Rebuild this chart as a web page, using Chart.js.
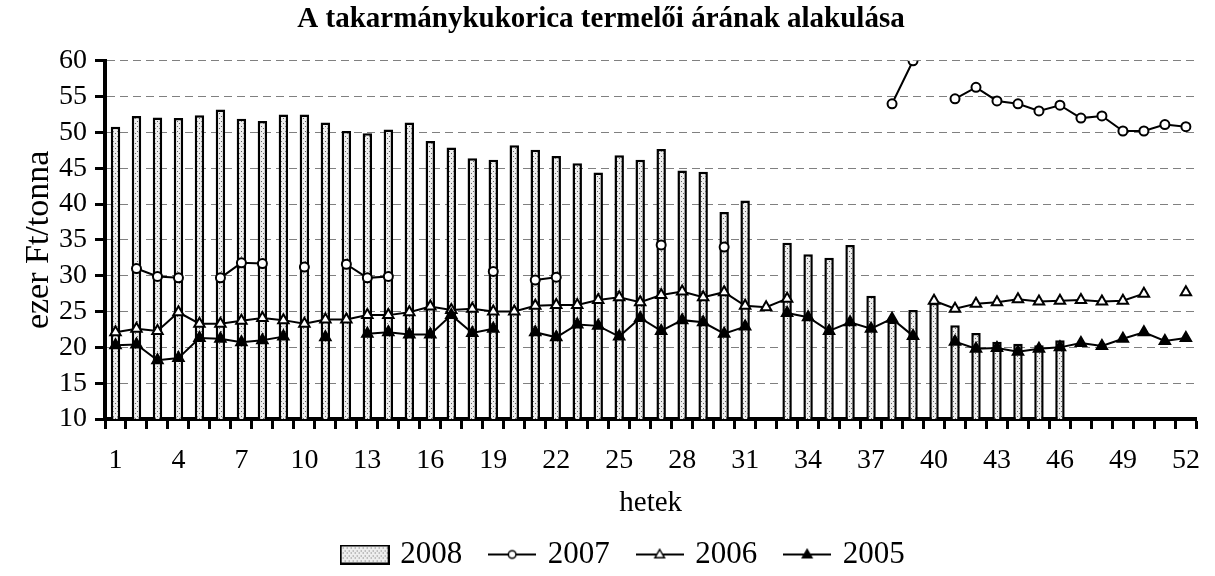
<!DOCTYPE html>
<html><head><meta charset="utf-8">
<script src="https://cdn.jsdelivr.net/npm/chart.js@4.4.0/dist/chart.umd.min.js"></script>
<style>html,body{margin:0;padding:0;background:#fff;}#wrap{width:1215px;height:576px;}</style>
</head><body><div id="wrap"><canvas id="c" width="1215" height="576"></canvas></div>
<script>
const weeks = ['1','2','3','4','5','6','7','8','9','10','11','12','13','14','15','16','17','18','19','20','21','22','23','24','25','26','27','28','29','30','31','32','33','34','35','36','37','38','39','40','41','42','43','44','45','46','47','48','49','50','51','52'];
const y2008 = [50.8,52.3,52.1,52.0,52.4,53.2,51.9,51.6,52.5,52.5,51.4,50.2,49.9,50.4,51.4,48.8,47.9,46.4,46.2,48.2,47.6,46.7,45.7,44.4,46.8,46.2,47.7,44.7,44.5,38.9,40.5,null,34.6,33.0,32.5,34.3,27.2,23.6,25.2,26.2,23.1,22.0,20.8,20.5,20.3,21.0,null,null,null,null,null,null];
const y2007 = [null,31.0,29.9,29.7,null,29.7,31.8,31.7,null,31.2,null,31.6,29.7,29.9,null,null,null,null,30.6,null,29.4,29.8,null,null,null,null,34.3,null,null,34.0,null,null,null,null,null,null,null,54.0,60.0,null,54.7,56.3,54.4,54.0,53.0,53.8,52.0,52.3,50.2,50.2,51.1,50.8];
const y2006 = [22.1,22.6,22.3,24.9,23.3,23.3,23.7,24.1,23.8,23.3,23.9,23.9,24.5,24.5,24.9,25.7,25.2,25.4,25.0,25.0,25.8,25.9,25.9,26.6,27.0,26.3,27.3,27.8,27.0,27.7,25.8,25.6,26.8,null,null,null,null,null,null,26.5,25.4,26.1,26.3,26.7,26.4,26.5,26.6,26.4,26.5,27.5,null,27.7];
const y2005 = [20.3,20.4,18.2,18.5,21.3,21.2,20.7,21.0,21.5,null,21.4,null,21.9,22.1,21.8,21.8,24.5,22.0,22.6,null,22.1,21.4,23.2,23.0,21.5,24.1,22.3,23.8,23.5,21.9,22.9,null,24.8,24.2,22.3,23.5,22.6,24.0,21.6,null,20.8,19.8,19.9,19.4,19.8,20.0,20.6,20.2,21.2,22.1,20.9,21.3];
const seriesNames = ['2008','2007','2006','2005'];
const yTicks = [10,15,20,25,30,35,40,45,50,55,60];
const titleText = 'A takarmánykukorica termelői árának alakulása';
const yTitle = 'ezer Ft/tonna';
const xTitle = 'hetek';

const FONT = 'Liberation Serif';
const canvas = document.getElementById('c');
const mainCtx = canvas.getContext('2d');

function makePattern() {
  const p = document.createElement('canvas'); p.width = 4; p.height = 5;
  const g = p.getContext('2d');
  g.fillStyle = '#eeeeee'; g.fillRect(0, 0, 4, 5);
  g.fillStyle = '#666666'; g.fillRect(1, 1, 1, 1); g.fillRect(3, 3, 1, 1);
  return mainCtx.createPattern(p, 'repeat');
}
const barPattern = makePattern();

function triPath(g, x, y, r) {
  g.beginPath();
  g.moveTo(x, y - r);
  g.lineTo(x + r * 0.866, y + r * 0.5);
  g.lineTo(x - r * 0.866, y + r * 0.5);
  g.closePath();
}
function iconBar() {
  const c = document.createElement('canvas'); c.width = 50; c.height = 20;
  const g = c.getContext('2d');
  g.fillStyle = barPattern; g.fillRect(1, 1, 48, 18);
  g.strokeStyle = '#000'; g.lineWidth = 2; g.strokeRect(1, 1, 48, 18);
  return c;
}
function iconLine(kind) {
  const c = document.createElement('canvas'); c.width = 48; c.height = 14;
  const g = c.getContext('2d');
  g.strokeStyle = '#000'; g.lineWidth = 2;
  g.beginPath(); g.moveTo(0, 7); g.lineTo(48, 7); g.stroke();
  g.lineWidth = 1.5;
  if (kind === 'circle') {
    g.beginPath(); g.arc(24, 7, 3.8, 0, Math.PI * 2); g.fillStyle = '#fff'; g.fill(); g.stroke();
  } else if (kind === 'open') {
    triPath(g, 24, 7.5, 5.5); g.fillStyle = '#fff'; g.fill(); g.stroke();
  } else {
    triPath(g, 24, 7.5, 5.5); g.fillStyle = '#000'; g.fill(); g.stroke();
  }
  return c;
}
const icons = [iconBar(), iconLine('circle'), iconLine('open'), iconLine('filled')];

const legendShift = {
  id: 'legendShift',
  afterLayout(chart) {
    const l = chart.legend;
    const ca = chart.chartArea;
    const dx = (ca.left + ca.right) / 2 - (l.left + l.right) / 2 - 26;
    l.left += dx; l.right += dx;
    l.top -= 5; l.bottom -= 5;
  }
};

new Chart(canvas, {
  data: {
    labels: weeks,
    datasets: [
      { type: 'bar', label: seriesNames[0], data: y2008, backgroundColor: barPattern, borderColor: '#000', borderWidth: 2.5, barPercentage: 0.45, categoryPercentage: 1, order: 4 },
      { type: 'line', label: seriesNames[1], data: y2007, borderColor: '#000', borderWidth: 2, pointStyle: 'circle', pointRadius: 4.5, pointBackgroundColor: '#fff', pointBorderColor: '#000', pointBorderWidth: 2, spanGaps: false, tension: 0, order: 3 },
      { type: 'line', label: seriesNames[2], data: y2006, borderColor: '#000', borderWidth: 2, pointStyle: 'triangle', pointRadius: 6, pointBackgroundColor: '#fff', pointBorderColor: '#000', pointBorderWidth: 2, spanGaps: false, tension: 0, order: 2 },
      { type: 'line', label: seriesNames[3], data: y2005, borderColor: '#000', borderWidth: 2, pointStyle: 'triangle', pointRadius: 6, pointBackgroundColor: '#000', pointBorderColor: '#000', pointBorderWidth: 2, spanGaps: false, tension: 0, order: 1 }
    ]
  },
  options: {
    responsive: false,
    animation: false,
    devicePixelRatio: 1,
    layout: { padding: { left: 0, right: 13, top: 0, bottom: -9 } },
    plugins: {
      tooltip: { enabled: false },
      title: { display: true, text: titleText, color: '#000', font: { family: FONT, size: 29, weight: 'bold' }, padding: { top: 2, bottom: 24 } },
      legend: {
        position: 'bottom',
        labels: {
          usePointStyle: true,
          pointStyleWidth: 40,
          padding: 30,
          color: '#000',
          font: { family: FONT, size: 31 },
          generateLabels: (chart) => chart.data.datasets.map((ds, i) => ({
            text: ds.label, pointStyle: icons[i], datasetIndex: i, hidden: false,
            fillStyle: 'rgba(0,0,0,0)', strokeStyle: 'rgba(0,0,0,0)', lineWidth: 0, fontColor: '#000'
          }))
        }
      }
    },
    scales: {
      x: {
        type: 'category',
        grid: { display: true, offset: true, drawOnChartArea: false, drawTicks: true, tickLength: 10, tickWidth: 3, tickColor: '#000' },
        border: { display: true, color: '#000', width: 4 },
        ticks: {
          autoSkip: false, maxRotation: 0, minRotation: 0, padding: 15, color: '#000',
          font: { family: FONT, size: 28 },
          callback: function(v, i) { return i % 3 === 0 ? weeks[i] : ''; }
        },
        title: { display: true, text: xTitle, color: '#000', font: { family: FONT, size: 29 }, padding: { top: 0, bottom: -7 } },
        afterFit: (scale) => { scale.height = 95; }
      },
      y: {
        type: 'linear', min: 10, max: 60,
        afterBuildTicks: (scale) => { scale.ticks = yTicks.map(v => ({ value: v })); },
        grid: { display: true, color: '#808080', lineWidth: 1, drawTicks: true, tickLength: 10, tickWidth: 3, tickColor: '#000' },
        border: { display: true, color: '#000', width: 4, dash: [8, 5] },
        ticks: { autoSkip: false, padding: 8, color: '#000', font: { family: FONT, size: 28 } },
        title: { display: true, text: yTitle, color: '#000', font: { family: FONT, size: 34 }, padding: { top: 19, bottom: 8 } },
        afterFit: (scale) => { scale.width = 105; }
      }
    }
  },
  plugins: [legendShift]
});
</script>
</body></html>
